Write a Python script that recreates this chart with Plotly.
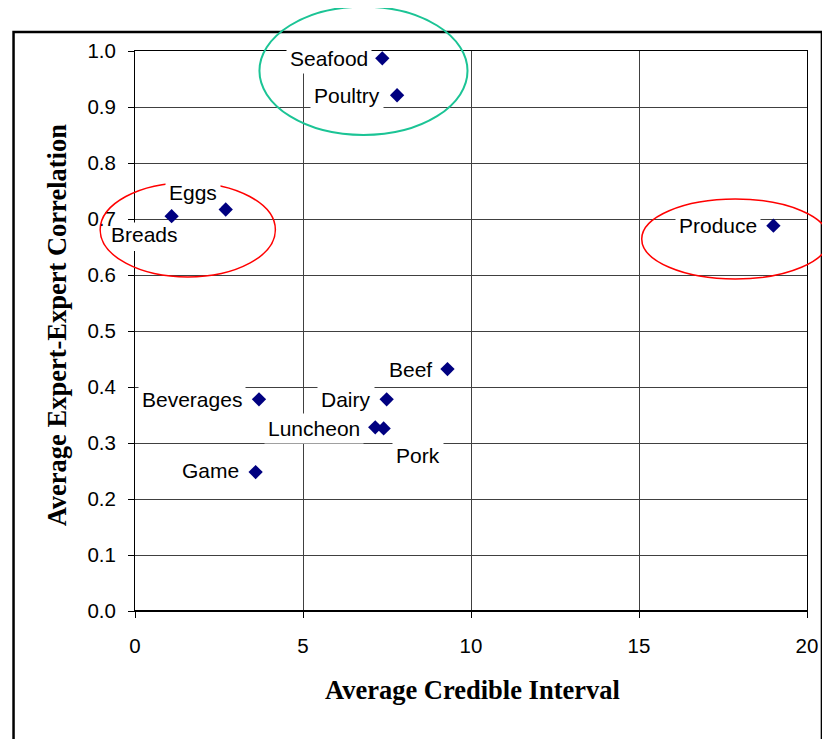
import plotly.graph_objects as go

# ---- data ----
categories = ["Seafood", "Poultry", "Eggs", "Breads", "Produce", "Beef",
              "Beverages", "Dairy", "Luncheon", "Pork", "Game"]
credible_interval = [7.36, 7.80, 2.70, 1.09, 19.0, 9.30, 3.69, 7.49, 7.15, 7.40, 3.59]
expert_correlation = [0.987, 0.921, 0.717, 0.705, 0.688, 0.432, 0.378, 0.378, 0.328, 0.326, 0.248]
x_ticks = [0, 5, 10, 15, 20]
y_ticks = [0.0, 0.1, 0.2, 0.3, 0.4, 0.5, 0.6, 0.7, 0.8, 0.9, 1.0]

# label offsets in pixels (dx, dy up)
label_offsets = {
    "Seafood": (-53.5, 0), "Poultry": (-50.5, 0), "Eggs": (-32.7, 17.3),
    "Breads": (-26.8, -18.5), "Produce": (-55.7, 0), "Beef": (-37.3, 0),
    "Beverages": (-66.8, 0), "Dairy": (-40.8, 0), "Luncheon": (-61, -0.7),
    "Pork": (34.2, -26.7), "Game": (-44.7, 1.3),
}
# labels whose white box would hide the neighbouring tick label
no_box_labels = {"Breads"}

# page has an 8px body margin; figure sized so it fits the 830x739 window
OFF = 8
W, H = 822, 731
ML, MR, MT, MB = 127, 20, 43, 128
PW, PH = W - ML - MR, H - MT - MB


def px(x):
    """page pixel x -> paper x"""
    return (x - OFF - ML) / PW


def py(y):
    """page pixel y -> paper y"""
    return (H - MB - (y - OFF)) / PH


SANS = "Liberation Sans, Arial, sans-serif"
SERIF = "Liberation Serif, Times New Roman, serif"

fig = go.Figure()
fig.add_trace(go.Scatter(
    x=credible_interval, y=expert_correlation, mode="markers",
    marker=dict(symbol="diamond", size=11, color="#000080"),
    hoverinfo="text", text=categories, showlegend=False, cliponaxis=False,
))

annotations = []
for name, xv, yv in zip(categories, credible_interval, expert_correlation):
    dx, dy = label_offsets[name]
    annotations.append(dict(
        x=xv, y=yv, xref="x", yref="y", text=name, showarrow=False,
        xshift=dx, yshift=dy, xanchor="center", yanchor="middle",
        font=dict(family=SANS, size=21, color="black"),
        bgcolor="rgba(0,0,0,0)" if name in no_box_labels else "white",
        borderpad=3,
    ))

# axis titles
annotations.append(dict(
    x=px(473.7), y=py(690), xref="paper", yref="paper",
    text="<b>Average Credible Interval</b>", showarrow=False,
    xanchor="center", yanchor="middle",
    font=dict(family=SERIF, size=26.5, color="black"),
))
annotations.append(dict(
    x=px(57), y=py(325), xref="paper", yref="paper",
    text="<b>Average Expert-Expert Correlation</b>", showarrow=False,
    textangle=-90, xanchor="center", yanchor="middle",
    font=dict(family=SERIF, size=26.5, color="black"),
))

shapes = [
    # white patch where the Breads label box interrupts the y axis line
    dict(type="rect", xref="paper", yref="paper",
         x0=px(128), x1=px(142), y0=py(251), y1=py(222.5),
         line=dict(width=0), fillcolor="white", layer="above"),
    # outer chart frame
    dict(type="rect", xref="paper", yref="paper",
         x0=px(13), x1=px(825), y0=py(770), y1=py(32),
         line=dict(color="black", width=2.5), layer="above"),
    # highlight ellipses
    dict(type="circle", xref="paper", yref="paper",
         x0=px(260), x1=px(469), y0=py(135), y1=py(6.7),
         line=dict(color="#1BC495", width=2), layer="above"),
    dict(type="circle", xref="paper", yref="paper",
         x0=px(100), x1=px(276), y0=py(277), y1=py(182.7),
         line=dict(color="#FF0000", width=1.5), layer="above"),
    dict(type="circle", xref="paper", yref="paper",
         x0=px(644), x1=px(832), y0=py(279), y1=py(199),
         line=dict(color="#FF0000", width=1.5), layer="above"),
]

fig.update_layout(
    width=W, height=H,
    margin=dict(l=ML, r=MR, t=MT, b=MB, pad=0),
    paper_bgcolor="white", plot_bgcolor="white",
    annotations=annotations, shapes=shapes,
    xaxis=dict(
        range=[0, 20], tickvals=x_ticks, ticktext=[str(v) for v in x_ticks],
        showgrid=True, gridcolor="#404040", gridwidth=1,
        zeroline=False, showline=True, linecolor="black", linewidth=1,
        mirror=True, ticks="outside", ticklen=6, tickcolor="black",
        tickfont=dict(family=SANS, size=20.5, color="black"),
        ticklabelstandoff=10,
    ),
    yaxis=dict(
        range=[0, 1.0], tickvals=y_ticks, ticktext=[f"{v:.1f}" for v in y_ticks],
        showgrid=True, gridcolor="#404040", gridwidth=1,
        zeroline=False, showline=True, linecolor="black", linewidth=1,
        mirror=True, ticks="outside", ticklen=6, tickcolor="black",
        tickfont=dict(family=SANS, size=20.5, color="black"),
        ticklabelstandoff=8,
    ),
)
# heavier x-axis baseline
fig.add_shape(type="line", xref="paper", yref="paper", x0=0, x1=1, y0=0, y1=0,
              line=dict(color="black", width=2), layer="above")

fig.write_html("out.html")
